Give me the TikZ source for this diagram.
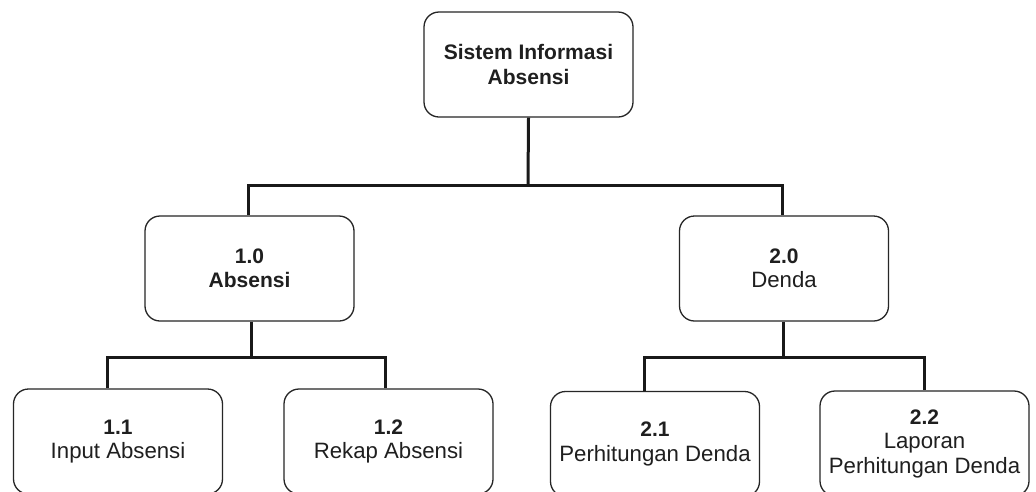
\documentclass[tikz,border=0pt]{standalone}
\usepackage{fontspec}
\setmainfont{Liberation Sans}
\newcommand{\reg}[1]{{\fontsize{22.2}{24.5}\selectfont #1}}
\begin{document}
\begin{tikzpicture}[x=1pt,y=-1pt,
  procbox/.style={draw=black!85, line width=1.3pt, rounded corners=15pt, fill=white,
    minimum width=209pt, minimum height=105pt, align=center, inner sep=0pt,
    text=black!88, font=\fontsize{21}{24.5}\selectfont},
  link/.style={draw=black!90, line width=3pt}]
\useasboundingbox (0,0) rectangle (1036,491);
\clip (0,0) rectangle (1036,491);
\fill[white] (0,0) rectangle (1036,491);
\node[procbox] (top) at (528.5,64.5) {\textbf{Sistem Informasi}\\\textbf{Absensi}};
\node[procbox] (a) at (249.5,268.5) {\textbf{1.0}\\\textbf{Absensi}};
\node[procbox] (d) at (784,268.5) {\textbf{2.0}\\\reg{Denda}};
\node[procbox] (a1) at (118,441.5) {\textbf{1.1}\\\reg{Input Absensi}};
\node[procbox] (a2) at (388.5,441.5) {\textbf{1.2}\\\reg{Rekap Absensi}};
\node[procbox] (d1) at (655,444) {\textbf{2.1}\\\reg{Perhitungan Denda}};
\node[procbox] (d2) at (924.5,443.5) {\textbf{2.2}\\\reg{Laporan}\\\reg{Perhitungan Denda}};
\coordinate (j0) at (528,185);
\coordinate (j1) at (251,357);
\coordinate (j2) at (783,357);
\draw[link] (top.south) -- (j0);
\draw[link] (j0) -| ([xshift=-1.5pt]a.north);
\draw[link] (j0) -| ([xshift=-2pt]d.north);
\draw[link] ([xshift=1.5pt]a.south) -- (j1);
\draw[link] (j1) -| ([xshift=-10.5pt]a1.north);
\draw[link] (j1) -| ([xshift=-3pt]a2.north);
\draw[link] ([xshift=-1pt]d.south) -- (j2);
\draw[link] (j2) -| ([xshift=-10.5pt]d1.north);
\draw[link] (j2) -| ([xshift=0pt]d2.north);
\end{tikzpicture}
\end{document}
